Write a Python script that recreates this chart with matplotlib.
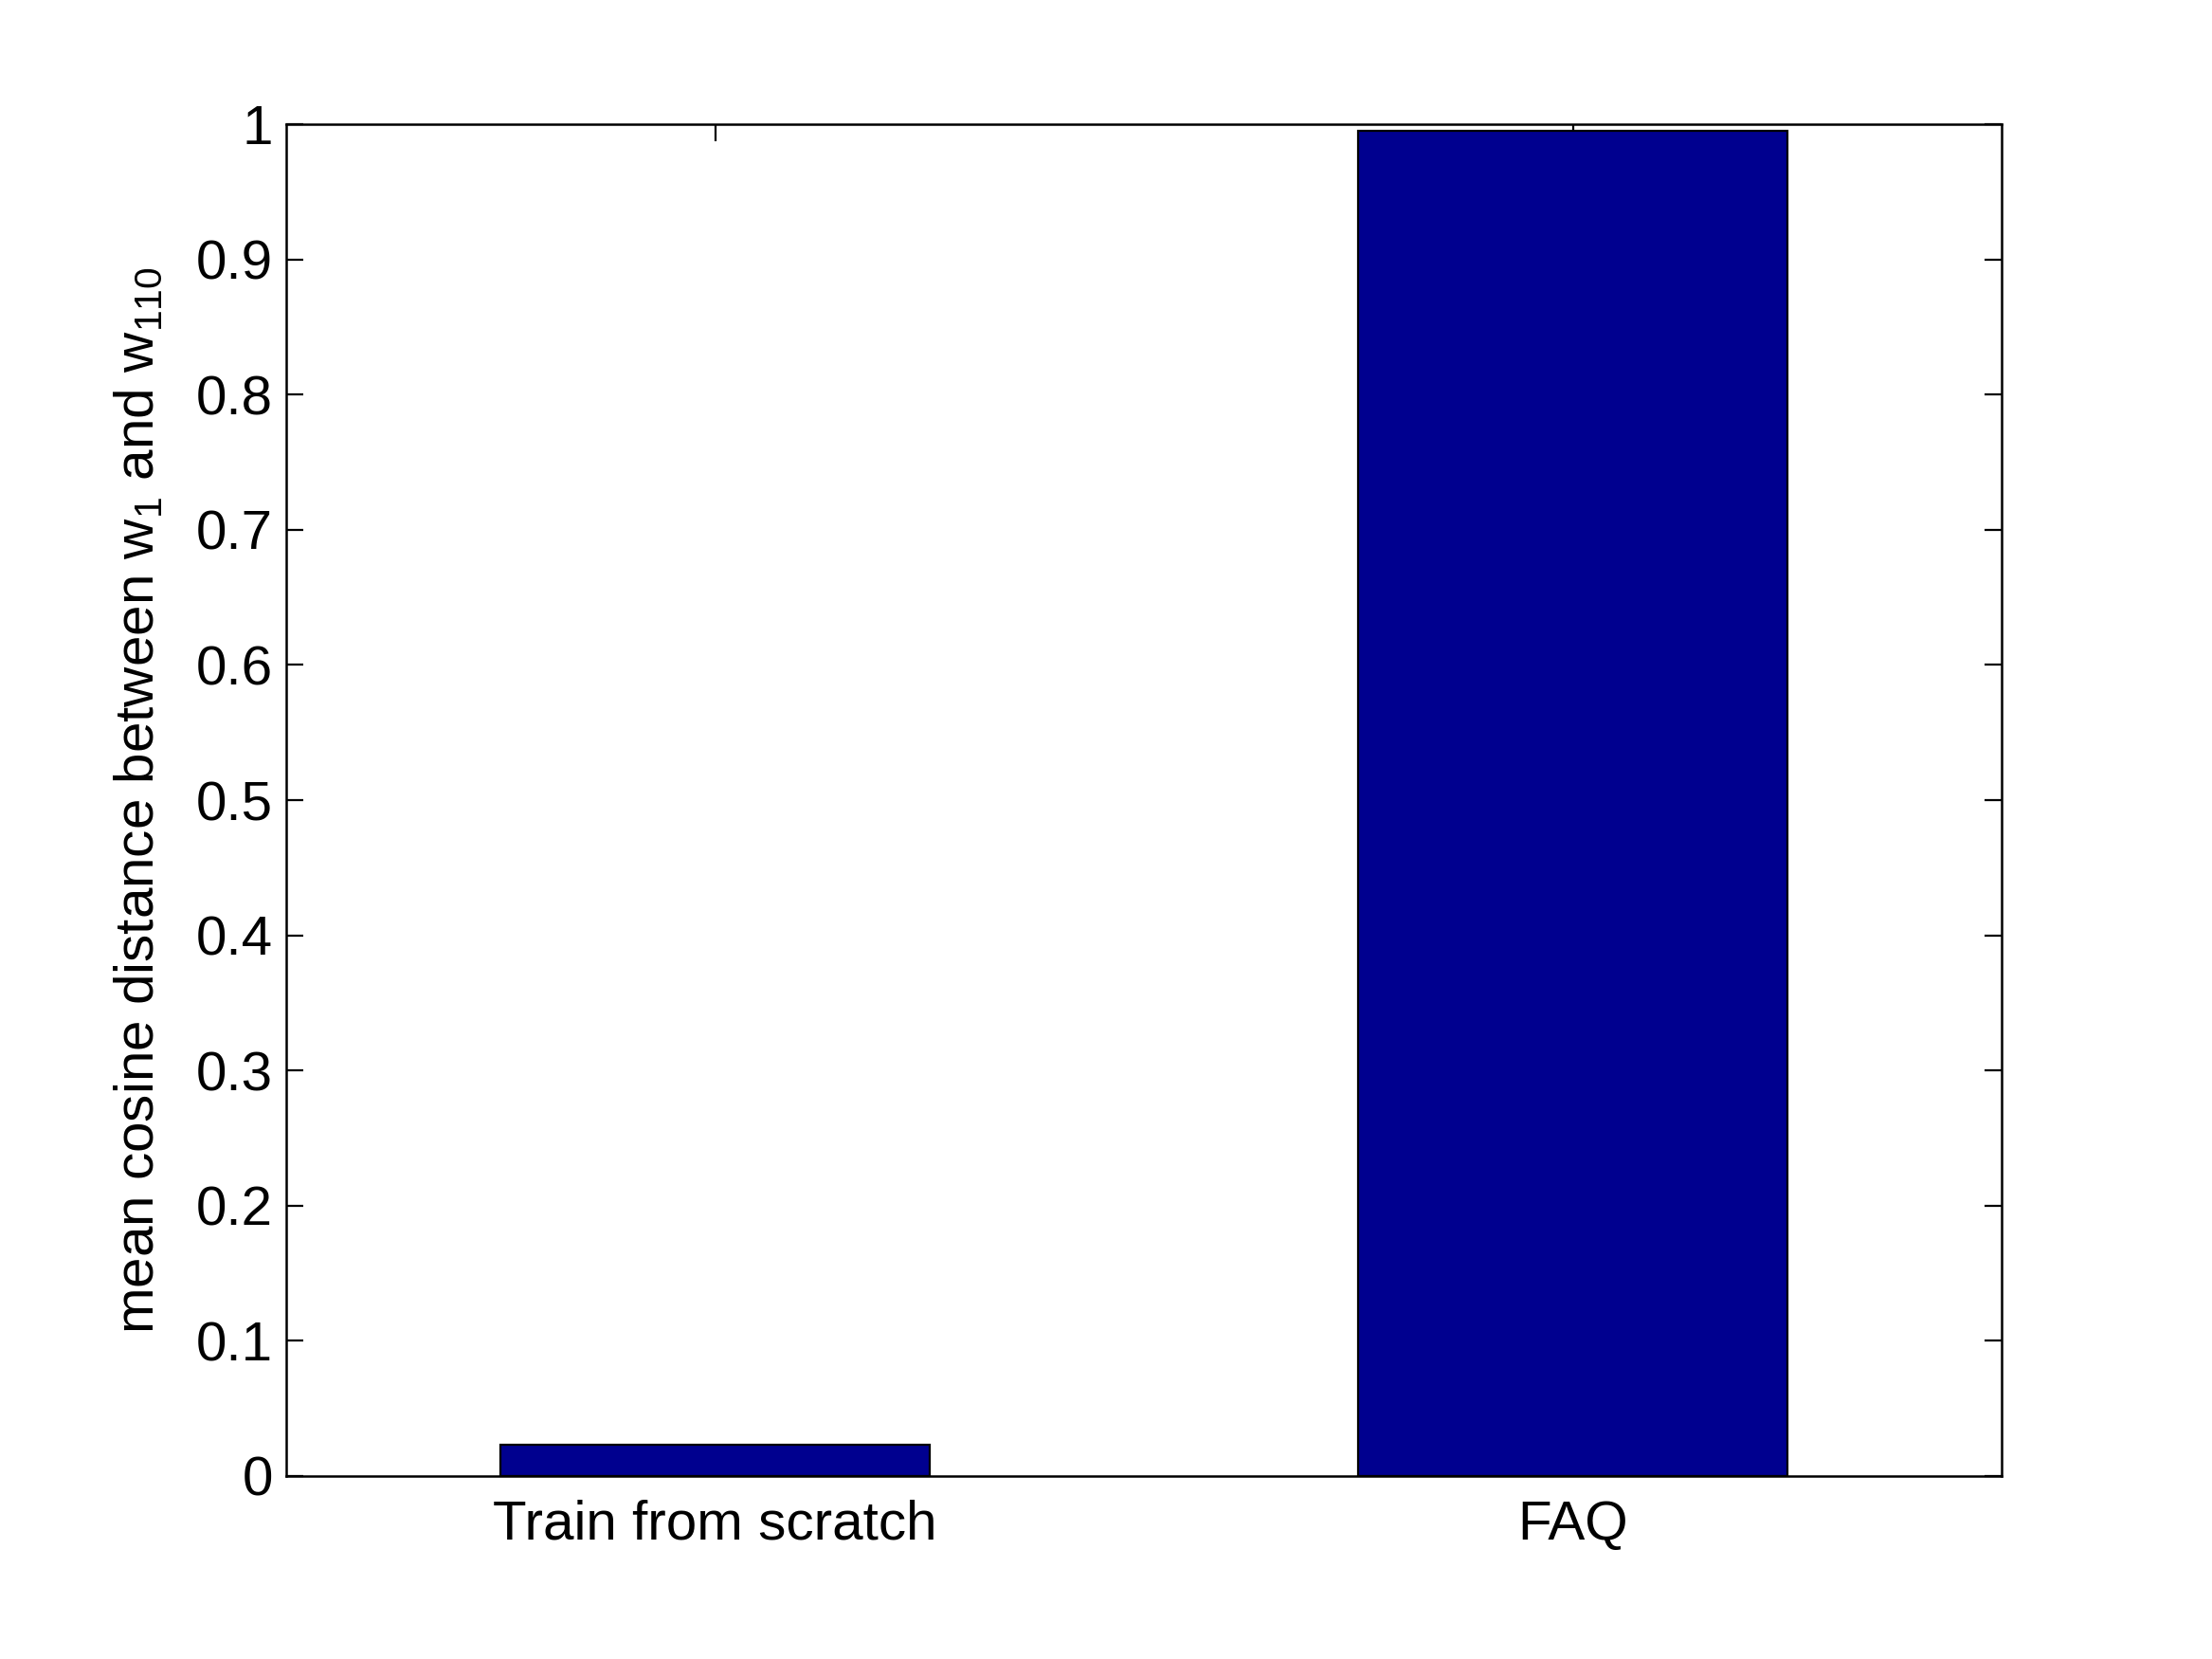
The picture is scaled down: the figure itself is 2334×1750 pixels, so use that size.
import numpy as np
import matplotlib
matplotlib.use("Agg")
import matplotlib.pyplot as plt

# Data
categories = ["Train from scratch", "FAQ"]
values = [0.023, 0.995]
yticks = np.arange(0, 1.01, 0.1)
ytick_labels = ["0", "0.1", "0.2", "0.3", "0.4", "0.5", "0.6", "0.7", "0.8", "0.9", "1"]

plt.rcParams['font.family'] = ['Liberation Sans', 'DejaVu Sans']
plt.rcParams['mathtext.fontset'] = 'custom'
plt.rcParams['mathtext.rm'] = 'Liberation Sans'
plt.rcParams['mathtext.it'] = 'Liberation Sans'

fig = plt.figure(figsize=(11.67, 8.75), dpi=200)
ax = fig.add_axes([0.1294, 0.1103, 0.7755, 0.8148])

x = np.arange(1, len(categories) + 1)
ax.bar(x, values, width=0.5, color='#00008f', edgecolor='black', linewidth=0.8)
ax.set_axisbelow(True)  # ticks hidden behind bars, like the original

ax.set_xlim(0.5, 2.5)
ax.set_ylim(0, 1)
ax.set_xticks(x)
ax.set_xticklabels(categories)
ax.set_yticks(yticks)
ax.set_yticklabels(ytick_labels)
ax.tick_params(direction='in', length=6.5, width=0.8, top=True, right=True,
               labelsize=21)
ax.tick_params(axis='x', pad=9)
ax.tick_params(axis='y', pad=5)
for s in ax.spines.values():
    s.set_linewidth(0.9)

ax.set_ylabel(r"mean cosine distance between $\mathregular{w_1}$ and $\mathregular{w_{110}}$",
              fontsize=21, labelpad=12)

fig.savefig("out.png", dpi=200)
